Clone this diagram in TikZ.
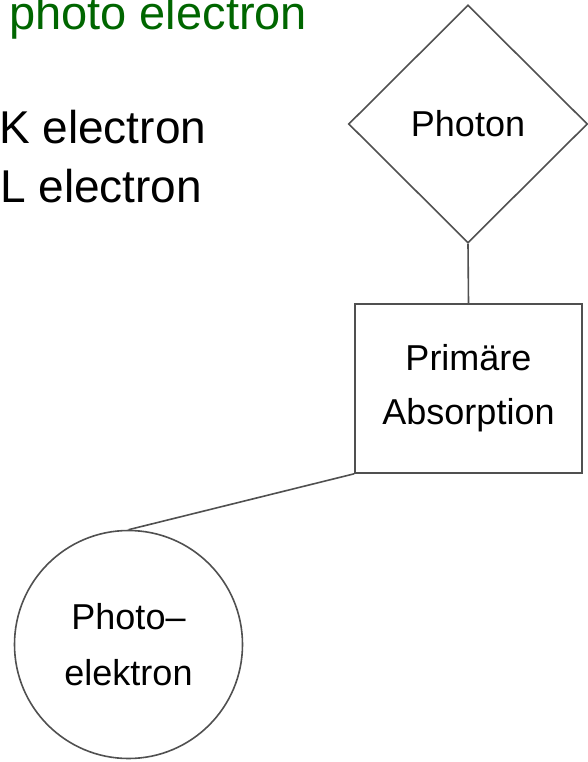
\documentclass[tikz,border=0pt]{standalone}
\usepackage{fontspec}
\setmainfont{Liberation Sans}
\usetikzlibrary{shapes.geometric}
\definecolor{legendgreen}{RGB}{0,102,0}
\definecolor{linegray}{RGB}{80,80,80}

\begin{document}
\begin{tikzpicture}[x=1pt, y=-1pt,
    shape line/.style={draw=linegray, line width=1.6pt},
    diagram text/.style={font=\fontsize{36}{54}\selectfont, align=center}]
  \useasboundingbox (0,0) rectangle (587,762);
  % Legend at the top left
  \node[anchor=base west, inner sep=0pt, text=legendgreen,
        font=\fontsize{47}{56}\selectfont] (legendphoto) at (9,30) {photo electron};
  \node[anchor=base west, inner sep=0pt, font=\fontsize{46}{58}\selectfont]
    (legendk) at (-1,144) {K electron};
  \node[anchor=base west, inner sep=0pt, font=\fontsize{46}{58}\selectfont]
    (legendl) at (0,202) {L electron};

  % Diagram nodes
  \node[diamond, shape line, diagram text, inner sep=0pt,
        minimum width=239pt, minimum height=238pt] (photon) at (468,124) {Photon};
  \node[rectangle, shape line, diagram text, minimum width=227pt,
        minimum height=169pt] (absorption) at (468.5,388.5) {Primäre\\Absorption};
  \node[circle, shape line, font=\fontsize{36}{56}\selectfont, align=center,
        minimum size=228pt] (photoelectron) at (128.5,644.5) {Photo--\\elektron};

  % Connectors
  \draw[shape line] (photon.south) -- (absorption.north);
  \draw[shape line] (absorption.south west) -- (photoelectron.north);
\end{tikzpicture}
\end{document}
